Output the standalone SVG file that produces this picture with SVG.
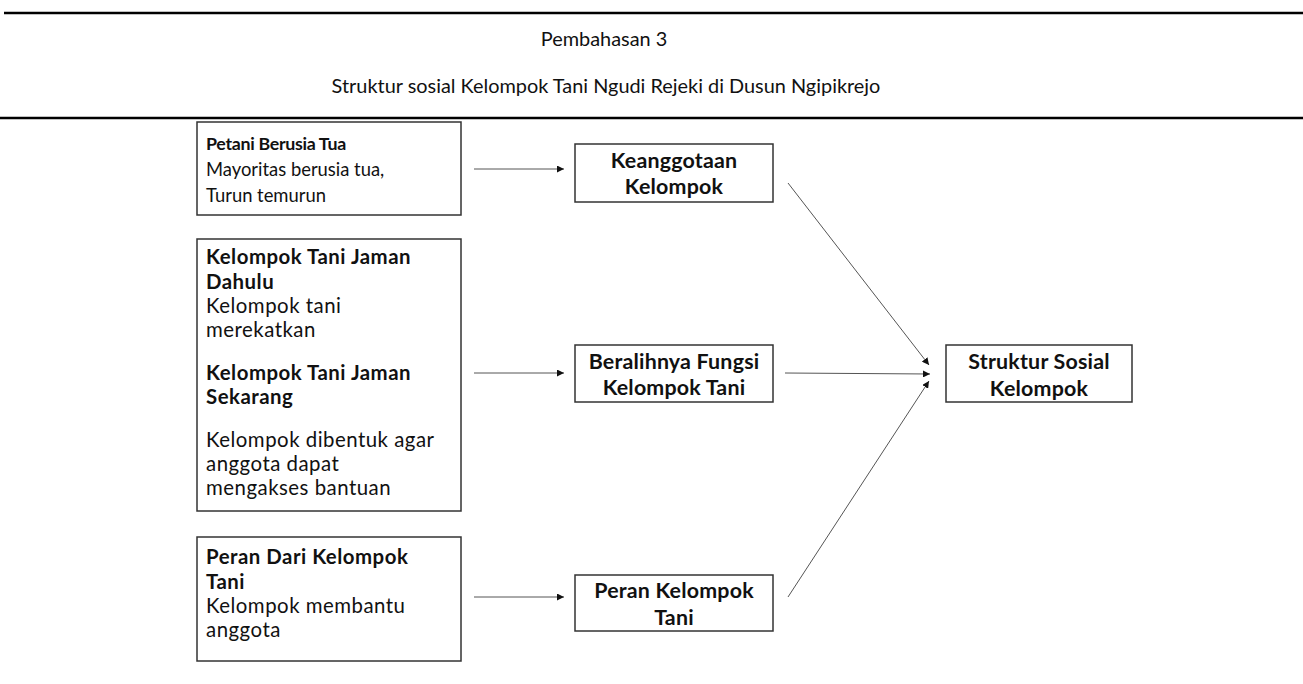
<svg xmlns="http://www.w3.org/2000/svg" width="1303" height="684" viewBox="0 0 1303 684">
<style>
  .t{font-family:Lato,"Noto Sans",sans-serif;font-size:20.4px;letter-spacing:0.5px;fill:#111}
  .s{font-size:18.4px;letter-spacing:0}
  .sb{font-size:17.8px;letter-spacing:-0.3px}
  .h{font-size:19.9px;letter-spacing:0}
  .m{font-size:21.4px;letter-spacing:0.2px}
  .b{font-weight:bold}
  .c{text-anchor:middle}
  .box{fill:#fff;stroke:#333;stroke-width:1.5}
  .rule{stroke:#000;stroke-width:2.5}
  .con{stroke:#555;stroke-width:1;fill:none;marker-end:url(#ah)}
</style>
<defs>
  <marker id="ah" viewBox="0 0 10 10" refX="10" refY="5" markerWidth="7" markerHeight="7" markerUnits="userSpaceOnUse" orient="auto">
    <path d="M0,0 L10,5 L0,10 z" fill="#111"/>
  </marker>
</defs>
<rect width="1303" height="684" fill="#fff"/>
<g id="header">
  <line class="rule" x1="4" y1="13" x2="1303" y2="13"/>
  <text class="t h c" x="604" y="46">Pembahasan 3</text>
  <text class="t h c" x="606" y="93">Struktur sosial Kelompok Tani Ngudi Rejeki di Dusun Ngipikrejo</text>
  <line class="rule" x1="0" y1="118" x2="1303" y2="118"/>
</g>
<g id="n1">
  <rect class="box" x="197" y="122" width="264" height="93"/>
  <text class="t sb b" x="206" y="150">Petani Berusia Tua</text>
  <text class="t s" x="206" y="176">Mayoritas berusia tua,</text>
  <text class="t s" x="206" y="202">Turun temurun</text>
</g>
<g id="n2">
  <rect class="box" x="197" y="239" width="264" height="272"/>
  <text class="t b" x="206" y="264">Kelompok Tani Jaman</text>
  <text class="t b" x="206" y="289">Dahulu</text>
  <text class="t" x="206" y="313">Kelompok tani</text>
  <text class="t" x="206" y="337">merekatkan</text>
  <text class="t b" x="206" y="380">Kelompok Tani Jaman</text>
  <text class="t b" x="206" y="404">Sekarang</text>
  <text class="t" x="206" y="447">Kelompok dibentuk agar</text>
  <text class="t" x="206" y="471">anggota dapat</text>
  <text class="t" x="206" y="495">mengakses bantuan</text>
</g>
<g id="n3">
  <rect class="box" x="197" y="537" width="264" height="124"/>
  <text class="t b" x="206" y="564">Peran Dari Kelompok</text>
  <text class="t b" x="206" y="589">Tani</text>
  <text class="t" x="206" y="613">Kelompok membantu</text>
  <text class="t" x="206" y="637">anggota</text>
</g>
<g id="m1">
  <rect class="box" x="575" y="144" width="198" height="58"/>
  <text class="t m b c" x="674" y="168">Keanggotaan</text>
  <text class="t m b c" x="674" y="194">Kelompok</text>
</g>
<g id="m2">
  <rect class="box" x="575" y="345" width="198" height="57"/>
  <text class="t m b c" x="674" y="369">Beralihnya Fungsi</text>
  <text class="t m b c" x="674" y="395">Kelompok Tani</text>
</g>
<g id="m3">
  <rect class="box" x="575" y="575" width="198" height="56"/>
  <text class="t m b c" x="674" y="598">Peran Kelompok</text>
  <text class="t m b c" x="674" y="625">Tani</text>
</g>
<g id="target">
  <rect class="box" x="946" y="345" width="186" height="57"/>
  <text class="t m b c" x="1039" y="369">Struktur Sosial</text>
  <text class="t m b c" x="1039" y="396">Kelompok</text>
</g>
<g id="connectors">
  <line class="con" x1="474" y1="169" x2="564" y2="169"/>
  <line class="con" x1="474" y1="373" x2="564" y2="373"/>
  <line class="con" x1="474" y1="597" x2="564" y2="597"/>
  <line class="con" x1="788" y1="183" x2="929" y2="365"/>
  <line class="con" x1="785" y1="373" x2="930" y2="374"/>
  <line class="con" x1="788" y1="597" x2="929" y2="381"/>
</g>
</svg>
